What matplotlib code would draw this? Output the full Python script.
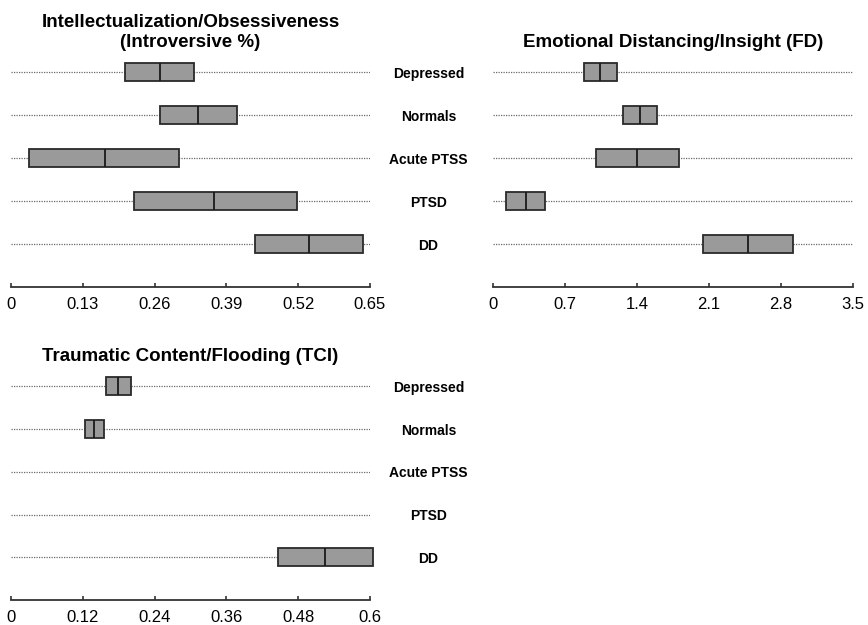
import numpy as np
import matplotlib
matplotlib.use('Agg')
import matplotlib.pyplot as plt

plt.rcParams['font.family'] = ['Liberation Sans', 'DejaVu Sans']

groups = ['Depressed', 'Normals', 'Acute PTSS', 'PTSD', 'DD']

# quartiles / medians
intel_q1 = [0.206, 0.270, 0.033, 0.222, 0.442]
intel_med = [0.270, 0.339, 0.170, 0.368, 0.539]
intel_q3 = [0.332, 0.410, 0.305, 0.517, 0.638]
intel_ticks = [0, 0.13, 0.26, 0.39, 0.52, 0.65]

fd_q1 = [0.88, 1.26, 1.00, 0.13, 2.04]
fd_med = [1.04, 1.43, 1.40, 0.32, 2.48]
fd_q3 = [1.21, 1.59, 1.81, 0.51, 2.92]
fd_ticks = [0, 0.7, 1.4, 2.1, 2.8, 3.5]

tci_q1 = [0.158, 0.123, np.nan, np.nan, 0.446]
tci_med = [0.179, 0.139, np.nan, np.nan, 0.525]
tci_q3 = [0.200, 0.155, np.nan, np.nan, 0.605]
tci_ticks = [0, 0.12, 0.24, 0.36, 0.48, 0.6]

W, H = 868, 625
fig = plt.figure(figsize=(W / 100, H / 100), dpi=100)


def px_axes(x0, x1, ytop, ybot):
    return fig.add_axes([x0 / W, 1 - ybot / H, (x1 - x0) / W, (ybot - ytop) / H])


def panel(ax, q1, med, q3, ticks, title, labels=False):
    pos = np.arange(1, len(groups) + 1)
    q1 = np.array(q1); med = np.array(med); q3 = np.array(q3)
    ax.hlines(pos, ticks[0], ticks[-1], colors='#6a6a6a', linestyles=(0, (1, 1)), lw=0.9, zorder=1)
    ok = ~np.isnan(q1)
    ax.barh(pos[ok], q3[ok] - q1[ok], left=q1[ok], height=0.42, color='#9a9a9a',
            edgecolor='#2a2a2a', lw=1.3, zorder=2, clip_on=False)
    ax.vlines(med[ok], pos[ok] - 0.21, pos[ok] + 0.21, colors='#1a1a1a', lw=1.3, zorder=3)
    ax.set_xlim(ticks[0], ticks[-1])
    ax.set_ylim(6.0, 0.5)
    ax.set_xticks(ticks)
    ax.set_xticklabels(['0'] + [('%g' % t) for t in ticks[1:]], fontsize=12)
    ax.tick_params(axis='x', direction='in', length=3, width=1.2, color='#333333', pad=7)
    for s in ['top', 'left', 'right']:
        ax.spines[s].set_visible(False)
    ax.spines['bottom'].set_linewidth(1.3)
    ax.spines['bottom'].set_color('#333333')
    ax.set_title(title, fontsize=13.5, fontweight='bold', pad=2, linespacing=1.25)
    if labels:
        ax.yaxis.tick_right()
        ax.set_yticks(pos)
        ax.set_yticklabels(groups, fontsize=10, fontweight='bold', ha='center')
        ax.tick_params(axis='y', length=0, pad=42)
    else:
        ax.set_yticks([])


ax1 = px_axes(11, 370, 51, 287)
panel(ax1, intel_q1, intel_med, intel_q3, intel_ticks,
      'Intellectualization/Obsessiveness\n(Introversive %)', labels=True)

ax2 = px_axes(493, 853, 51, 287)
panel(ax2, fd_q1, fd_med, fd_q3, fd_ticks, 'Emotional Distancing/Insight (FD)')

ax3 = px_axes(11, 370, 365, 600)
panel(ax3, tci_q1, tci_med, tci_q3, tci_ticks, 'Traumatic Content/Flooding (TCI)', labels=True)

fig.savefig('out.png', dpi=100)
